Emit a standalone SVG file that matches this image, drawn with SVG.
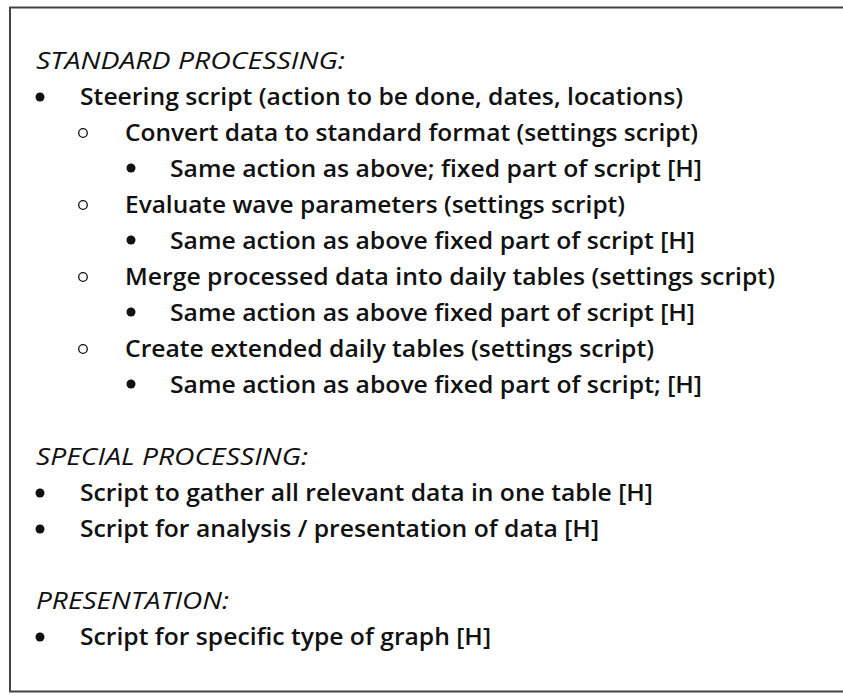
<svg xmlns="http://www.w3.org/2000/svg" width="843" height="697" viewBox="0 0 843 697">
<style>
.h{font-family:"Open Sans","Liberation Sans",sans-serif;font-style:italic;font-weight:500;font-size:24px;fill:#111}
.t{font-family:"Open Sans","Liberation Sans",sans-serif;font-weight:600;font-size:24px;fill:#111}
.b{fill:#111}
.c{fill:none;stroke:#111;stroke-width:1.3}
</style>
<rect x="0" y="0" width="843" height="697" fill="#fff"/>
<rect id="frame" x="10" y="7.5" width="850" height="684" fill="none" stroke="#444" stroke-width="2"/>
<g id="standard">
<text class="h" x="36" y="69" textLength="309" lengthAdjust="spacingAndGlyphs">STANDARD PROCESSING:</text>
<circle class="b" cx="40" cy="97" r="4.5"/>
<text class="t" x="80" y="105" textLength="603" lengthAdjust="spacingAndGlyphs">Steering script (action to be done, dates, locations)</text>
<circle class="c" cx="83" cy="133" r="4.3"/>
<text class="t" x="125" y="141" textLength="573" lengthAdjust="spacingAndGlyphs">Convert data to standard format (settings script)</text>
<circle class="b" cx="131" cy="168" r="4.5"/>
<text class="t" x="170" y="177" textLength="532" lengthAdjust="spacingAndGlyphs">Same action as above; fixed part of script [H]</text>
<circle class="c" cx="83" cy="205" r="4.3"/>
<text class="t" x="125" y="213" textLength="500" lengthAdjust="spacingAndGlyphs">Evaluate wave parameters (settings script)</text>
<circle class="b" cx="131" cy="240" r="4.5"/>
<text class="t" x="170" y="249" textLength="525" lengthAdjust="spacingAndGlyphs">Same action as above fixed part of script [H]</text>
<circle class="c" cx="83" cy="277" r="4.3"/>
<text class="t" x="125" y="285" textLength="650" lengthAdjust="spacingAndGlyphs">Merge processed data into daily tables (settings script)</text>
<circle class="b" cx="131" cy="312" r="4.5"/>
<text class="t" x="170" y="321" textLength="525" lengthAdjust="spacingAndGlyphs">Same action as above fixed part of script [H]</text>
<circle class="c" cx="83" cy="349" r="4.3"/>
<text class="t" x="125" y="357" textLength="529" lengthAdjust="spacingAndGlyphs">Create extended daily tables (settings script)</text>
<circle class="b" cx="131" cy="384" r="4.5"/>
<text class="t" x="170" y="393" textLength="532" lengthAdjust="spacingAndGlyphs">Same action as above fixed part of script; [H]</text>
</g>
<g id="special">
<text class="h" x="36" y="465" textLength="272" lengthAdjust="spacingAndGlyphs">SPECIAL PROCESSING:</text>
<circle class="b" cx="40" cy="493" r="4.5"/>
<text class="t" x="80" y="501" textLength="573" lengthAdjust="spacingAndGlyphs">Script to gather all relevant data in one table [H]</text>
<circle class="b" cx="40" cy="529" r="4.5"/>
<text class="t" x="80" y="537" textLength="519" lengthAdjust="spacingAndGlyphs">Script for analysis / presentation of data [H]</text>
</g>
<g id="presentation">
<text class="h" x="36" y="609" textLength="193" lengthAdjust="spacingAndGlyphs">PRESENTATION:</text>
<circle class="b" cx="40" cy="637" r="4.5"/>
<text class="t" x="80" y="645" textLength="411" lengthAdjust="spacingAndGlyphs">Script for specific type of graph [H]</text>
</g>
</svg>
